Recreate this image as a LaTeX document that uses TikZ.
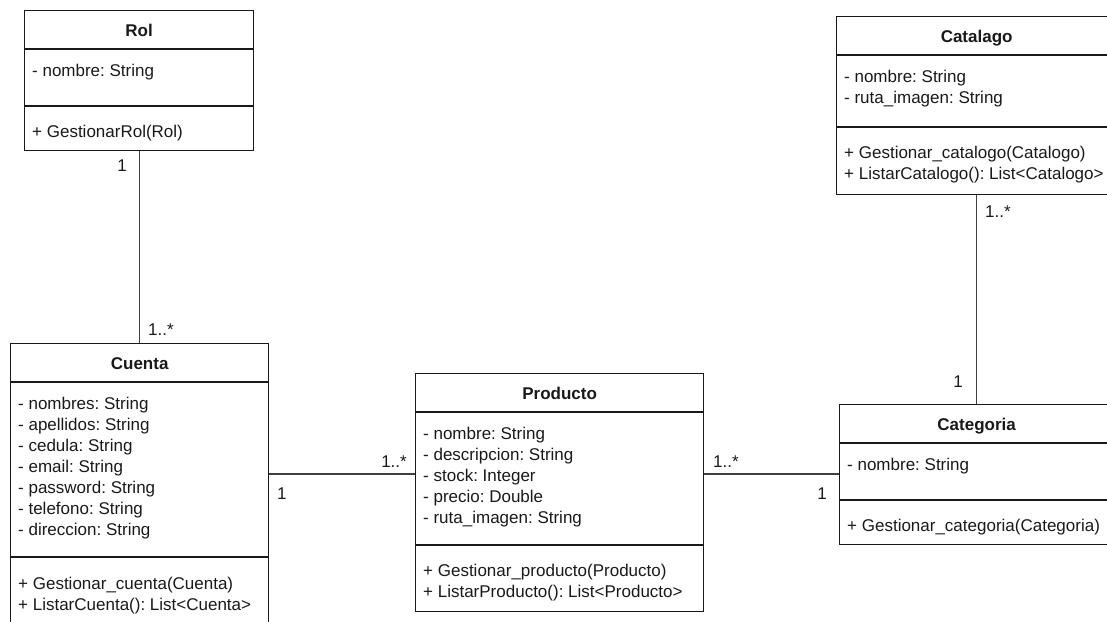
\documentclass[tikz,border=0pt]{standalone}
\usepackage{fontspec}
\setmainfont{Liberation Sans}
\frenchspacing
\begin{document}
\begin{tikzpicture}[x=1pt,y=-1pt,
  classframe/.style={draw=black!90, line width=1.3pt, rectangle, inner sep=0pt, anchor=north west},
  divider/.style={draw=black!90, line width=1.3pt},
  assoc/.style={draw=black!75, line width=1.2pt},
  member/.style={inner sep=0pt, anchor=base west, font=\fontsize{17}{21}\selectfont, text=black!90},
  classname/.style={inner sep=0pt, anchor=base, font=\fontsize{17}{21}\selectfont\bfseries, text=black!90},
  mult/.style={inner sep=0pt, font=\fontsize{17}{21}\selectfont, text=black!90}]
\useasboundingbox (0,0) rectangle (1107,621);
\clip (0,0) rectangle (1107,621);

% class frame: name, header height, attribute block height
\newcommand\umlframe[3]{%
  \draw[divider] ([yshift=-#2pt]#1.north west) -- ([yshift=-#2pt]#1.north east);
  \draw[divider] ([yshift=-#3pt]#1.north west) -- ([yshift=-#3pt]#1.north east);}

% ---- Rol
\node[classframe, minimum width=229pt, minimum height=140pt] (rol) at (24,10) {};
\umlframe{rol}{39}{96}
\node[classname] (rol-t) at ([yshift=-26pt]rol.north) {Rol};
\node[member] (rol-a0) at (32,76) {- nombre: String};
\node[member] (rol-m0) at (32,137) {+ GestionarRol(Rol)};

% ---- Cuenta
\node[classframe, minimum width=258pt, minimum height=300pt] (cuenta) at (10,343) {};
\umlframe{cuenta}{39}{214}
\node[classname] (cuenta-t) at ([yshift=-26pt]cuenta.north) {Cuenta};
\foreach \t [count=\i from 0] in {- nombres: String, - apellidos: String, - cedula: String,
    - email: String, - password: String, - telefono: String, - direccion: String}
  \node[member] (cuenta-a\i) at (18,{409+21*\i}) {\t};
\foreach \t [count=\i from 0] in {+ Gestionar\_cuenta(Cuenta), + ListarCuenta(): List<Cuenta>}
  \node[member] (cuenta-m\i) at (18,{589+21*\i}) {\t};

% ---- Producto
\node[classframe, minimum width=288pt, minimum height=238pt] (producto) at (415,373) {};
\umlframe{producto}{39}{172}
\node[classname] (producto-t) at ([yshift=-26pt]producto.north) {Producto};
\foreach \t [count=\i from 0] in {- nombre: String, - descripcion: String, - stock: Integer,
    - precio: Double, - ruta\_imagen: String}
  \node[member] (producto-a\i) at (423,{439+21*\i}) {\t};
\foreach \t [count=\i from 0] in {+ Gestionar\_producto(Producto), + ListarProducto(): List<Producto>}
  \node[member] (producto-m\i) at (423,{576+21*\i}) {\t};

% ---- Catalago
\node[classframe, minimum width=280pt, minimum height=178pt] (catalago) at (836,16) {};
\umlframe{catalago}{39}{111}
\node[classname] (catalago-t) at ([yshift=-26pt]catalago.north) {Catalago};
\foreach \t [count=\i from 0] in {- nombre: String, - ruta\_imagen: String}
  \node[member] (catalago-a\i) at (844,{82+21*\i}) {\t};
\foreach \t [count=\i from 0] in {+ Gestionar\_catalogo(Catalogo), + ListarCatalogo(): List<Catalogo>}
  \node[member] (catalago-m\i) at (844,{158+21*\i}) {\t};

% ---- Categoria
\node[classframe, minimum width=274pt, minimum height=140pt] (categoria) at (839,404) {};
\umlframe{categoria}{39}{96}
\node[classname] (categoria-t) at ([yshift=-26pt]categoria.north) {Categoria};
\node[member] (categoria-a0) at (847,470) {- nombre: String};
\node[member] (categoria-m0) at (847,531) {+ Gestionar\_categoria(Categoria)};

% ---- associations
\coordinate (midrow) at (0,474);
\draw[assoc] (rol.south) -- (rol.south |- cuenta.north);
\draw[assoc] (cuenta.east |- midrow) -- (producto.west |- midrow);
\draw[assoc] (producto.east |- midrow) -- (categoria.west |- midrow);
\draw[assoc] (catalago.south) -- (catalago.south |- categoria.north);

% ---- multiplicities
\node[mult, anchor=base east] (m-rol) at (127,171) {1};
\node[mult, anchor=base west] (m-cuenta-rol) at (148,335) {1..*};
\node[mult, anchor=base west] (m-cuenta-prod) at (277,499) {1};
\node[mult, anchor=base east] (m-prod-cuenta) at (407,467) {1..*};
\node[mult, anchor=base west] (m-prod-cat) at (713,467) {1..*};
\node[mult, anchor=base east] (m-cat-prod) at (827,499) {1};
\node[mult, anchor=base west] (m-catalago) at (985,217) {1..*};
\node[mult, anchor=base east] (m-cat-catalago) at (963,387) {1};
\end{tikzpicture}
\end{document}
